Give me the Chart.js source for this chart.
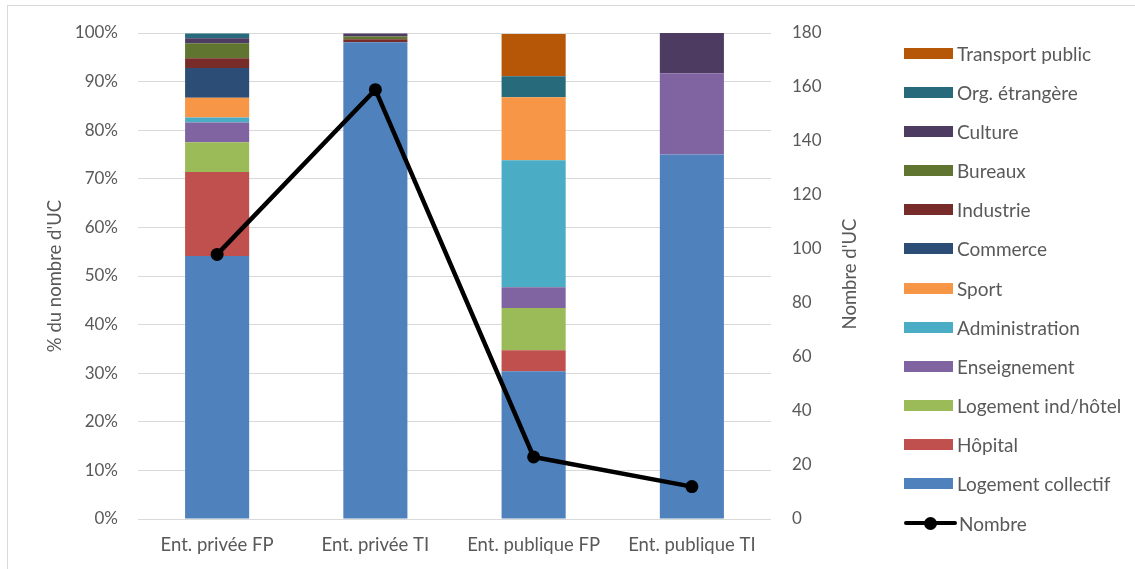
<!DOCTYPE html>
<html>
<head>
<meta charset="utf-8">
<script src="https://cdn.jsdelivr.net/npm/chart.js@4.4.0/dist/chart.umd.min.js"></script>
<style>
  body { margin: 0; background: #fff; font-family: Lato, sans-serif; }
  #wrap { position: relative; width: 1135px; height: 569px; overflow: hidden; }
  #frame { position: absolute; left: 7px; top: 5px; width: 1200px; height: 700px; border: 1px solid #d9d9d9; }
  canvas { position: absolute; left: 0; top: 0; }
  #legend { position: absolute; left: 0; top: 0; }
  .item { position: absolute; left: 900px; height: 22px; display: flex; align-items: center; color: #595959; font-size: 19px; white-space: nowrap; }
  .swatch { width: 49px; height: 11px; margin: 0 4px 0 4px; }
  .lineSym { position: relative; width: 53px; height: 22px; margin: 0 2px 0 2px; }
  .lineSym .bar { position: absolute; left: 0; right: 0; top: 9px; height: 4px; background: #000; border-radius: 2px; }
  .lineSym .dot { position: absolute; left: 20px; top: 4.5px; width: 13px; height: 13px; border-radius: 50%; background: #000; }
</style>
</head>
<body>
<div id="wrap">
  <div id="frame"></div>
  <canvas id="chart" width="1135" height="569"></canvas>
  <div id="legend"></div>
</div>
<script>
const categories = ['Ent. privée FP', 'Ent. privée TI', 'Ent. publique FP', 'Ent. publique TI'];

// % du nombre d'UC
const logementCollectif = [54.1, 98.1, 30.4, 75.0];
const hopital = [17.3, 0, 4.3, 0];
const logementInd = [6.1, 0, 8.7, 0];
const enseignement = [4.1, 0, 4.3, 16.7];
const administration = [1.0, 0, 26.1, 0];
const sport = [4.1, 0, 13.0, 0];
const commerce = [6.1, 0, 0, 0];
const industrie = [2.0, 0.6, 0, 0];
const bureaux = [3.1, 0.6, 0, 0];
const culture = [1.0, 0.6, 0, 8.3];
const orgEtrangere = [1.0, 0, 4.3, 0];
const transportPublic = [0, 0, 8.7, 0];

// Nombre d'UC (axe de droite)
const nombre = [98, 159, 23, 12];

const pctTicks = [0, 10, 20, 30, 40, 50, 60, 70, 80, 90, 100];
const countTicks = [0, 20, 40, 60, 80, 100, 120, 140, 160, 180];

const textColor = '#595959';
const tickFont = { family: 'Lato', size: 17 };
const labelFont = { family: 'Lato', size: 18.5 };

const barSeries = [
    { label: 'Logement collectif', data: logementCollectif, color: '#4F81BD' },
    { label: 'Hôpital', data: hopital, color: '#C0504D' },
    { label: 'Logement ind/hôtel', data: logementInd, color: '#9BBB59' },
    { label: 'Enseignement', data: enseignement, color: '#8064A2' },
    { label: 'Administration', data: administration, color: '#4BACC6' },
    { label: 'Sport', data: sport, color: '#F79646' },
    { label: 'Commerce', data: commerce, color: '#2C4D75' },
    { label: 'Industrie', data: industrie, color: '#772C2A' },
    { label: 'Bureaux', data: bureaux, color: '#5F7530' },
    { label: 'Culture', data: culture, color: '#4D3B62' },
    { label: 'Org. étrangère', data: orgEtrangere, color: '#276A7C' },
    { label: 'Transport public', data: transportPublic, color: '#B65708' }
];

const datasets = barSeries.map(s => ({
    type: 'bar',
    label: s.label,
    data: s.data,
    backgroundColor: s.color,
    borderWidth: 0,
    yAxisID: 'y',
    stack: 'uc',
    order: 1,
    categoryPercentage: 0.405,
    barPercentage: 1
}));

datasets.push({
    type: 'line',
    label: 'Nombre',
    data: nombre,
    yAxisID: 'y1',
    borderColor: '#000',
    backgroundColor: '#000',
    borderWidth: 4.5,
    pointRadius: 6.5,
    pointBorderWidth: 0,
    tension: 0,
    order: 0
});

// titre de l'axe droit, écrit de bas en haut comme dans Excel
const rightTitle = {
    id: 'rightTitle',
    afterDraw(chart) {
        const ctx = chart.ctx;
        const area = chart.chartArea;
        ctx.save();
        ctx.translate(850, (area.top + area.bottom) / 2 - 2);
        ctx.rotate(-Math.PI / 2);
        ctx.font = '18.5px Lato';
        ctx.fillStyle = textColor;
        ctx.textAlign = 'center';
        ctx.textBaseline = 'middle';
        ctx.fillText("Nombre d'UC", 0, 0);
        ctx.restore();
    }
};

const chart = new Chart(document.getElementById('chart'), {
    data: { labels: categories, datasets: datasets },
    options: {
        responsive: false,
        animation: false,
        devicePixelRatio: 1,
        layout: { padding: { top: 33, left: 0, right: 0, bottom: 0 } },
        plugins: {
            legend: { display: false },
            tooltip: { enabled: false }
        },
        scales: {
            x: {
                stacked: true,
                grid: { display: false, drawTicks: false },
                border: { display: false },
                ticks: { color: textColor, font: labelFont, padding: 15 },
                afterFit(scale) { scale.height = 50; }
            },
            y: {
                stacked: true,
                position: 'left',
                min: 0,
                max: 100,
                afterBuildTicks(scale) { scale.ticks = pctTicks.map(v => ({ value: v })); },
                ticks: { color: textColor, font: tickFont, padding: 20, callback: v => v + '%' },
                grid: { color: '#d9d9d9', lineWidth: 1, drawTicks: false },
                border: { display: false },
                title: { display: true, text: "% du nombre d'UC", color: textColor, font: labelFont, padding: { top: 44, bottom: 0 } },
                afterFit(scale) { scale.width = 138; }
            },
            y1: {
                position: 'right',
                min: 0,
                max: 180,
                afterBuildTicks(scale) { scale.ticks = countTicks.map(v => ({ value: v })); },
                ticks: { color: textColor, font: tickFont, padding: 21 },
                grid: { display: false, drawTicks: false },
                border: { display: false },
                afterFit(scale) { scale.width = 364; }
            }
        }
    },
    plugins: [rightTitle]
});

// légende (ordre Excel : séries empilées de haut en bas, puis la courbe)
const legendEl = document.getElementById('legend');
const legendItems = barSeries.slice().reverse().map(s => ({ label: s.label, color: s.color, line: false }));
legendItems.push({ label: 'Nombre', line: true });
legendItems.forEach((it, i) => {
    const row = document.createElement('div');
    row.className = 'item';
    row.style.top = (53 + i * 39.17 - 11) + 'px';
    if (it.line) {
        row.style.left = '902px';
        row.innerHTML = '<span class="lineSym"><span class="bar"></span><span class="dot"></span></span>';
    } else {
        row.innerHTML = '<span class="swatch" style="background:' + it.color + '"></span>';
    }
    const txt = document.createElement('span');
    txt.textContent = it.label;
    row.appendChild(txt);
    legendEl.appendChild(row);
});
</script>
</body>
</html>
